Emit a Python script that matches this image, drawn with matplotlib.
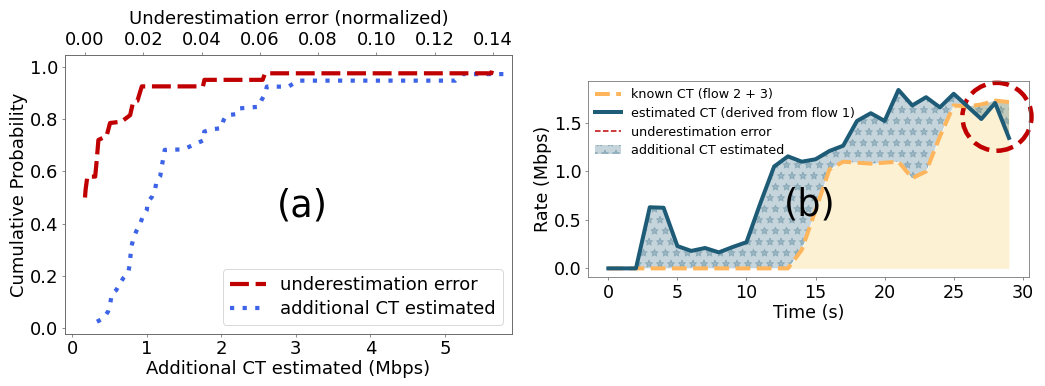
import numpy as np
import matplotlib
matplotlib.use('Agg')
import matplotlib.pyplot as plt
from matplotlib.lines import Line2D
from matplotlib.patches import Patch, Ellipse

DPI = 66


def pt(px):
    # sizes below are read in pixels off the picture
    return px * 72 / DPI


# (a) CDFs
red_err = [0.0000, 0.0002, 0.0008, 0.0035, 0.0040, 0.0046, 0.0074, 0.0086, 0.0125, 0.0155,
           0.0165, 0.0180, 0.0195, 0.0405, 0.0410, 0.0610, 0.0618, 0.1395, 0.1400]
red_cdf = [0.50, 0.53, 0.58, 0.58, 0.64, 0.72, 0.735, 0.785, 0.79, 0.815,
           0.865, 0.87, 0.925, 0.925, 0.95, 0.95, 0.975, 0.975, 1.0]

blue_mbps = [0.33, 0.42, 0.48, 0.51, 0.53, 0.59, 0.64, 0.69, 0.75, 0.77, 0.79, 0.82, 0.86, 0.91,
             0.94, 1.00, 1.01, 1.07, 1.11, 1.13, 1.18, 1.20, 1.24, 1.49, 1.67, 1.77, 1.77, 1.87,
             2.00, 2.03, 2.07, 2.21, 2.25, 2.50, 2.54, 2.59, 2.61, 2.90, 3.03, 5.14, 5.23, 5.83]
blue_cdf = [0.025, 0.038, 0.064, 0.096, 0.131, 0.146, 0.172, 0.194, 0.213, 0.242, 0.308, 0.344,
            0.372, 0.399, 0.423, 0.452, 0.482, 0.503, 0.529, 0.563, 0.582, 0.618, 0.682, 0.684,
            0.707, 0.72, 0.752, 0.761, 0.765, 0.796, 0.815, 0.819, 0.841, 0.847, 0.873, 0.898,
            0.924, 0.924, 0.947, 0.947, 0.972, 0.972]

# (b) rates over time
time_s = list(range(30))
known_ct = [0, 0, 0, 0, 0, 0, 0, 0, 0, 0, 0, 0, 0, 0, 0.19, 0.60, 1.02, 1.10, 1.09, 1.08,
            1.09, 1.10, 0.93, 1.00, 1.36, 1.68, 1.67, 1.69, 1.73, 1.715]
est_ct = [0, 0, 0, 0.63, 0.625, 0.23, 0.18, 0.21, 0.165, 0.22, 0.27, 0.67, 1.05, 1.155, 1.10,
          1.125, 1.21, 1.265, 1.52, 1.60, 1.52, 1.84, 1.68, 1.765, 1.66, 1.80, 1.67, 1.54,
          1.705, 1.345]

red = '#c00000'
blue = '#3d63e6'
teal = '#1d5b77'
orange = '#ffb55c'
frame = '#666666'

plt.rcParams['axes.edgecolor'] = frame
plt.rcParams['xtick.color'] = frame
plt.rcParams['ytick.color'] = frame
plt.rcParams['xtick.labelcolor'] = 'black'
plt.rcParams['ytick.labelcolor'] = 'black'
plt.rcParams['hatch.linewidth'] = 1.0

fig = plt.figure(figsize=(1045 / DPI, 386 / DPI), dpi=DPI)

# ---- (a)
ax = fig.add_axes([65 / 1045, 52 / 386, 447 / 1045, 279 / 386])
ax2 = ax.twiny()
l_blue, = ax.plot(blue_mbps, blue_cdf, linestyle=(0, (1, 2)), color=blue, lw=pt(4.2),
                  label='additional CT estimated')
l_red, = ax2.plot(red_err, red_cdf, linestyle=(0, (4.5, 1.6)), color=red, lw=pt(4.2),
                  label='underestimation error')
ax.set_xlim(-0.098, 5.9)
ax.set_ylim(-0.022, 1.045)
ax2.set_xlim(-0.00687, 0.1466)
ax.set_xticks(range(6))
ax.set_yticks(np.arange(0, 1.01, 0.2))
ax2.set_xticks(np.arange(0, 0.141, 0.02))
ax2.set_xticklabels(['%.2f' % v for v in np.arange(0, 0.141, 0.02)])
for a in (ax, ax2):
    a.tick_params(labelsize=pt(18))
ax.set_xlabel('Additional CT estimated (Mbps)', fontsize=pt(18), labelpad=2)
ax.set_ylabel('Cumulative Probability', fontsize=pt(18), labelpad=2)
ax2.set_xlabel('Underestimation error (normalized)', fontsize=pt(18), labelpad=7)
ax2.legend(handles=[l_red, l_blue], loc='lower right', fontsize=pt(18), labelspacing=0.3,
           handlelength=2.0)
ax.text(0.53, 0.46, '(a)', transform=ax.transAxes, fontsize=pt(36.5), ha='center', va='center')

# ---- (b)
bx = fig.add_axes([588.3 / 1045, 108.7 / 386, 440.7 / 1045, 196.3 / 386])
bx.fill_between(time_s, 0, known_ct, color='#fcf1d3', lw=0)
bx.fill_between(time_s, known_ct, est_ct, facecolor=teal, edgecolor=teal, alpha=0.25,
                hatch='*', lw=0)
bx.plot(time_s, known_ct, linestyle='--', color=orange, lw=pt(4))
bx.plot(time_s, est_ct, color=teal, lw=pt(4))
bx.set_xlim(-1.45, 30.45)
bx.set_ylim(-0.092, 1.932)
bx.add_patch(Ellipse((28.13, 1.563), 5.0, 0.70, fill=False, edgecolor=red,
                     linestyle='--', lw=pt(4.5), clip_on=False))
bx.set_xticks(range(0, 31, 5))
bx.set_yticks([0.0, 0.5, 1.0, 1.5])
bx.tick_params(labelsize=pt(17.5))
bx.set_xlabel('Time (s)', fontsize=pt(17.5), labelpad=2)
bx.set_ylabel('Rate (Mbps)', fontsize=pt(17.5), labelpad=2)
handles = [
    Line2D([], [], color=orange, linestyle='--', lw=pt(4)),
    Line2D([], [], color=teal, lw=pt(4)),
    Line2D([], [], color=red, linestyle='--', lw=pt(1.5)),
    Patch(facecolor=teal, edgecolor=teal, alpha=0.25, hatch='*', lw=0),
]
labels = ['known CT (flow 2 + 3)', 'estimated CT (derived from flow 1)',
          'underestimation error', 'additional CT estimated']
bx.legend(handles, labels, loc='upper left', fontsize=pt(12.8), frameon=False,
          labelspacing=0.45, borderaxespad=0.2, borderpad=0.35)
bx.text(14.6, 0.655, '(b)', fontsize=pt(36.5), ha='center', va='center')

fig.savefig('out.png', dpi=DPI)
